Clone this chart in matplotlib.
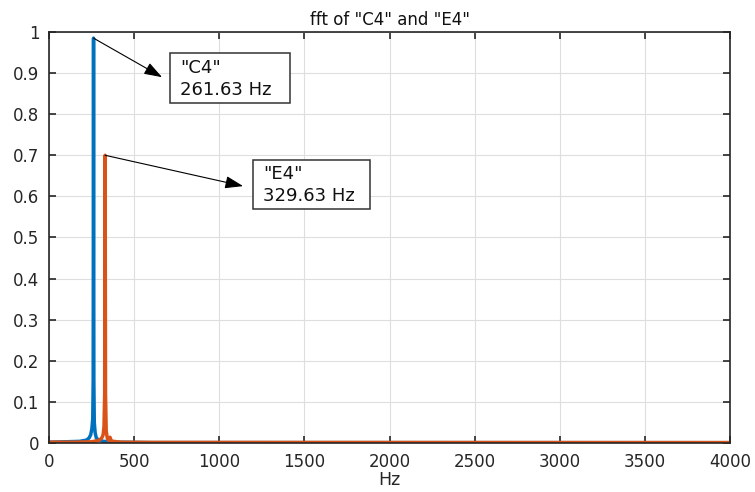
import numpy as np
import matplotlib.pyplot as plt
from matplotlib.patches import Rectangle

plt.rcParams['font.family'] = ['DejaVu Sans']

# spectrum magnitude of the two notes (Hz, normalised amplitude)
c4_hz = [0, 100, 180, 220, 235, 245, 252, 257, 259.5, 261.63, 263.5, 266, 271, 278, 290, 320, 400, 600, 4000]
c4_amp = [0.002, 0.003, 0.004, 0.007, 0.012, 0.02, 0.035, 0.06, 0.15, 0.985, 0.15, 0.05, 0.025, 0.012, 0.008, 0.004, 0.002, 0.001, 0.0008]

e4_hz = [0, 150, 250, 290, 305, 312, 318, 323, 327, 329.63, 332, 336, 342, 350, 358, 366, 380, 420, 600, 4000]
e4_amp = [0.002, 0.002, 0.003, 0.006, 0.01, 0.014, 0.02, 0.04, 0.12, 0.70, 0.12, 0.03, 0.012, 0.006, 0.014, 0.005, 0.004, 0.002, 0.0015, 0.001]

notes = ['"C4"', '"E4"']
peak_hz = [261.63, 329.63]
peak_amp = [0.985, 0.70]

blue = '#0072bd'
orange = '#d95319'

fig = plt.figure(figsize=(7.55, 4.92), dpi=100)
ax = fig.add_axes([0.0649, 0.0996, 0.902, 0.8354])

ax.plot(c4_hz, c4_amp, color=blue, lw=2.5)
ax.plot(e4_hz, e4_amp, color=orange, lw=2.5)

ax.set_xlim(0, 4000)
ax.set_ylim(0, 1)
ax.set_xticks(np.arange(0, 4001, 500))
ax.set_yticks(np.arange(0, 1.01, 0.1))
ax.set_yticklabels(['0', '0.1', '0.2', '0.3', '0.4', '0.5', '0.6', '0.7', '0.8', '0.9', '1'])
ax.grid(True, color='#dedede', lw=0.8)
ax.set_axisbelow(True)
ax.tick_params(direction='in', top=True, right=True, length=4.8, width=1.2,
               labelsize=12, colors='#262626', pad=7)
for s in ax.spines.values():
    s.set_color('#262626')
    s.set_linewidth(1.2)

ax.set_title('fft of "C4" and "E4"', fontsize=12, color='#111111', pad=5)
ax.set_xlabel('Hz', fontsize=12.5, color='#262626', labelpad=0)

# arrows from each peak to its label box
tips = [(664, 0.890), (1140, 0.625)]
for hz, amp, tip in zip(peak_hz, peak_amp, tips):
    ax.annotate('', xy=tip, xytext=(hz, amp),
                arrowprops=dict(arrowstyle='-|>,head_length=1.1,head_width=0.38',
                                color='black', lw=0.8, shrinkA=0, shrinkB=0))

# label boxes: (left, bottom, width, height) in data units
boxes = [(711, 0.827, 705, 0.122), (1198, 0.570, 688, 0.119)]
for name, hz, b in zip(notes, peak_hz, boxes):
    ax.add_patch(Rectangle((b[0], b[1]), b[2], b[3], fc='white', ec='#333333',
                           lw=1.1, zorder=4, clip_on=False))
    ax.text(b[0] + 60, b[1] + b[3] * 0.70, name, fontsize=13, va='center',
            ha='left', color='#111111', zorder=5)
    ax.text(b[0] + 60, b[1] + b[3] * 0.27, '%.2f Hz' % hz, fontsize=13,
            va='center', ha='left', color='#111111', zorder=5)

fig.savefig('out.png')
